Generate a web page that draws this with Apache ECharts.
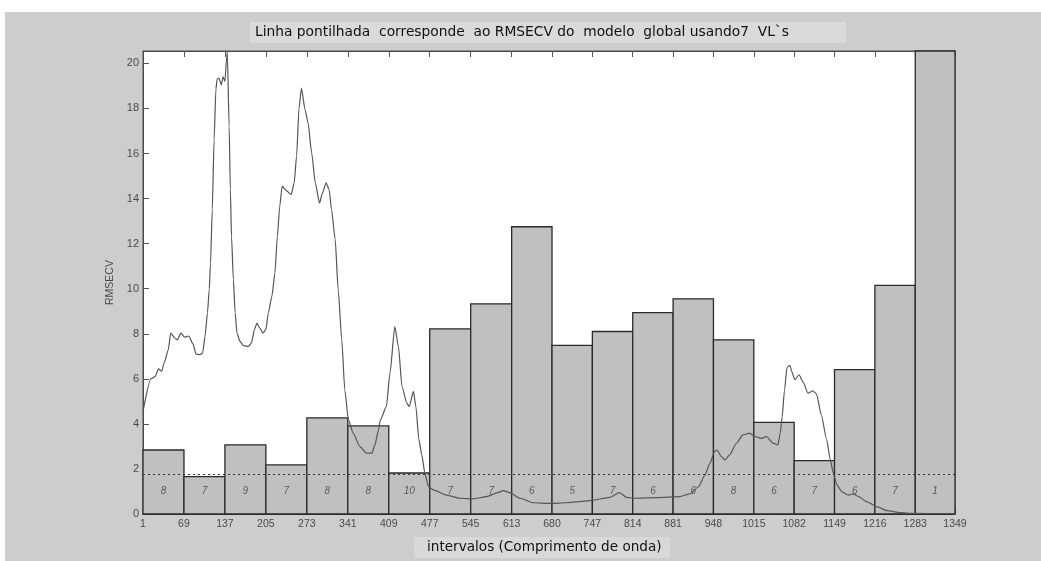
<!DOCTYPE html>
<html>
<head>
<meta charset="utf-8">
<title>iPLS – RMSECV por intervalo</title>
<script src="https://cdn.jsdelivr.net/npm/echarts@6/dist/echarts.min.js"></script>
<style>
  html, body { margin: 0; padding: 0; background: #ffffff; }
  #frame { position: absolute; left: 5px; top: 12px; width: 1036px; height: 549px; background: #cdcdcd; }
  #chart { position: absolute; left: 0; top: 0; width: 1041px; height: 561px; }
</style>
</head>
<body>
<div id="frame"></div>
<div id="chart"></div>
<script>
// Interval limits (variable index) – also used as x tick labels
const boundaries = [1, 69, 137, 205, 273, 341, 409, 477, 545, 613, 680, 747, 814, 881, 948, 1015, 1082, 1149, 1216, 1283, 1349];

// RMSECV of the local PLS model for each interval
const rmsecv = [2.84, 1.66, 3.07, 2.18, 4.27, 3.91, 1.82, 8.22, 9.33, 12.75, 7.48, 8.10, 8.94, 9.55, 7.73, 4.07, 2.37, 6.41, 10.15, 20.55];

// Number of latent variables chosen in each interval
const latentVars = [8, 7, 9, 7, 8, 8, 10, 7, 7, 6, 5, 7, 6, 6, 8, 6, 7, 6, 7, 1];

// RMSECV of the global model (7 latent variables)
const globalRmsecv = 1.78;

// Y tick labels
const yTicks = [0, 2, 4, 6, 8, 10, 12, 14, 16, 18, 20];

// Mean spectrum, scaled to the RMSECV axis: [variable, value]
const spectrum = [
  [1, 4.55], [14, 6.0], [21, 6.1], [27, 6.44], [32, 6.33], [36, 6.7], [43, 7.29], [47, 8.03],
  [54, 7.8], [58, 7.73], [64, 8.03], [70, 7.85], [77, 7.9], [84, 7.55], [89, 7.1], [95, 7.07],
  [100, 7.14], [104, 7.88], [108, 8.92], [111, 9.96], [113, 11.1], [116, 13.5], [119, 16.6],
  [122, 18.84], [124, 19.3], [127, 19.35], [131, 19.05], [134, 19.4], [137, 19.2], [140, 20.3],
  [141, 20.5], [144, 17.2], [146, 14.4], [148, 12.3], [151, 10.4], [154, 8.93], [157, 8.03],
  [162, 7.66], [168, 7.47], [176, 7.44], [181, 7.59], [186, 8.18], [190, 8.47], [195, 8.25],
  [200, 8.03], [205, 8.18], [209, 8.92], [215, 9.66], [220, 10.7], [224, 12.3], [228, 13.66],
  [232, 14.55], [239, 14.35], [247, 14.18], [252, 14.7], [256, 15.9], [260, 18.0], [264, 18.9],
  [270, 17.95], [275, 17.36], [281, 16.03], [287, 14.7], [294, 13.8], [299, 14.25], [305, 14.7],
  [310, 14.4], [314, 13.5], [320, 12.2], [325, 9.96], [331, 7.73], [336, 5.5], [342, 4.18],
  [350, 3.59], [361, 2.99], [372, 2.7], [381, 2.7], [386, 3.07], [392, 3.73], [395, 4.18],
  [405, 4.77], [411, 6.25], [419, 8.32], [425, 7.44], [431, 5.66], [439, 4.92], [443, 4.77],
  [450, 5.44], [454, 4.77], [459, 3.3], [464, 2.6], [469, 1.8], [475, 1.21], [483, 1.07],
  [505, 0.84], [527, 0.7], [549, 0.67], [571, 0.77], [590, 0.95], [599, 1.04], [610, 0.95],
  [627, 0.7], [649, 0.5], [677, 0.47], [704, 0.5], [726, 0.55], [743, 0.59], [776, 0.74],
  [792, 0.95], [804, 0.74], [815, 0.7], [854, 0.73], [892, 0.77], [909, 0.89], [923, 1.21],
  [934, 1.73], [942, 2.25], [950, 2.77], [954, 2.84], [961, 2.55], [967, 2.4], [975, 2.62],
  [986, 3.14], [997, 3.51], [1008, 3.59], [1017, 3.44], [1028, 3.36], [1036, 3.44], [1047, 3.15],
  [1055, 3.07], [1059, 3.6], [1062, 4.3], [1066, 5.5], [1070, 6.5], [1075, 6.6], [1078, 6.32],
  [1083, 5.96], [1090, 6.18], [1097, 5.84], [1105, 5.36], [1113, 5.47], [1119, 5.33], [1127, 4.4],
  [1136, 3.3], [1142, 2.4], [1147, 1.81], [1153, 1.29], [1161, 0.99], [1172, 0.84], [1180, 0.89],
  [1189, 0.77], [1202, 0.55], [1219, 0.33], [1236, 0.15], [1258, 0.06], [1280, 0.03], [1349, 0.01]
];

const Y_MAX = 20.55;
const LV_LABEL_Y = 1.02;   // height at which the latent-variable counts are written

const barData = rmsecv.map((v, i) => [boundaries[i], boundaries[i + 1], v, latentVars[i]]);

const chart = echarts.init(document.getElementById('chart'), null, { renderer: 'canvas' });

const tickFont = { color: '#4a4a4a', fontSize: 10.5, fontFamily: 'Liberation Sans, Arial, sans-serif' };
const plainNumber = (v) => String(v);

chart.setOption({
  animation: false,
  backgroundColor: 'transparent',
  grid: {
    left: 143, top: 51, width: 812, height: 463,
    show: true, backgroundColor: '#ffffff', borderColor: '#4a4a4a', borderWidth: 1
  },
  graphic: [
    {
      type: 'rect', left: 250, top: 22, z: 0,
      shape: { width: 596, height: 21 },
      style: { fill: '#dadada' }
    },
    {
      type: 'text', left: 255, top: 25, z: 1,
      style: {
        text: 'Linha pontilhada  corresponde  ao RMSECV do  modelo  global usando7  VL`s',
        fill: '#111', font: '13.8px "DejaVu Sans", sans-serif'
      }
    },
    {
      type: 'rect', left: 414, top: 537, z: 0,
      shape: { width: 256, height: 21 },
      style: { fill: '#d8d8d8' }
    },
    {
      type: 'text', left: 427, top: 540, z: 1,
      style: {
        text: 'intervalos (Comprimento de onda)',
        fill: '#111', font: '13.6px "DejaVu Sans", sans-serif'
      }
    }
  ],
  xAxis: [
    {
      type: 'value', min: 1, max: 1349, position: 'bottom',
      axisLine: { show: true, lineStyle: { color: '#333' } },
      axisTick: { show: true, inside: true, length: 6, customValues: boundaries, lineStyle: { color: '#444' } },
      axisLabel: { show: true, customValues: boundaries, margin: 5, formatter: plainNumber, ...tickFont },
      splitLine: { show: false }
    },
    {
      type: 'value', min: 1, max: 1349, position: 'top',
      axisLine: { show: true, lineStyle: { color: '#4a4a4a' } },
      axisTick: { show: true, inside: true, length: 6, customValues: boundaries, lineStyle: { color: '#555' } },
      axisLabel: { show: false },
      splitLine: { show: false }
    }
  ],
  yAxis: [
    {
      type: 'value', min: 0, max: Y_MAX, position: 'left',
      name: 'RMSECV', nameLocation: 'middle', nameGap: 26, nameRotate: 90,
      nameTextStyle: { color: '#4a4a4a', fontSize: 10.5, fontFamily: 'Liberation Sans, Arial, sans-serif' },
      axisLine: { show: true, lineStyle: { color: '#4a4a4a' } },
      axisTick: { show: true, inside: true, length: 6, customValues: yTicks, lineStyle: { color: '#555' } },
      axisLabel: { show: true, customValues: yTicks, margin: 4, formatter: plainNumber, ...tickFont, fontSize: 11 },
      splitLine: { show: false }
    }
  ],
  series: [
    {
      type: 'custom',
      name: 'RMSECV intervalos',
      xAxisIndex: 0, yAxisIndex: 0,
      data: barData,
      encode: { x: [0, 1], y: 2 },
      z: 2,
      renderItem: function (params, api) {
        const x0 = api.value(0), x1 = api.value(1), v = api.value(2), lv = api.value(3);
        const topLeft = api.coord([x0, v]);
        const bottomRight = api.coord([x1, 0]);
        const lbl = api.coord([(x0 + x1) / 2, LV_LABEL_Y]);
        return {
          type: 'group',
          children: [
            {
              type: 'rect',
              shape: {
                x: topLeft[0], y: topLeft[1],
                width: bottomRight[0] - topLeft[0],
                height: bottomRight[1] - topLeft[1]
              },
              style: { fill: '#c0c0c0', stroke: '#2a2a2a', lineWidth: 1.3 }
            },
            {
              type: 'text',
              x: lbl[0], y: lbl[1],
              style: {
                text: String(lv), fill: '#5a5a5a',
                font: 'italic 10px "Liberation Sans", Arial, sans-serif',
                align: 'center', verticalAlign: 'middle'
              }
            }
          ]
        };
      }
    },
    {
      type: 'line',
      name: 'Espectro médio',
      xAxisIndex: 0, yAxisIndex: 0,
      data: spectrum,
      showSymbol: false,
      smooth: 0.2,
      smoothMonotone: 'x',
      clip: true,
      z: 4,
      lineStyle: { color: '#555555', width: 1.2 },
      markLine: {
        silent: true,
        symbol: ['none', 'none'],
        label: { show: false },
        lineStyle: { color: '#333', width: 1, type: [2, 3] },
        data: [{ yAxis: globalRmsecv }]
      }
    }
  ]
});
</script>
</body>
</html>
